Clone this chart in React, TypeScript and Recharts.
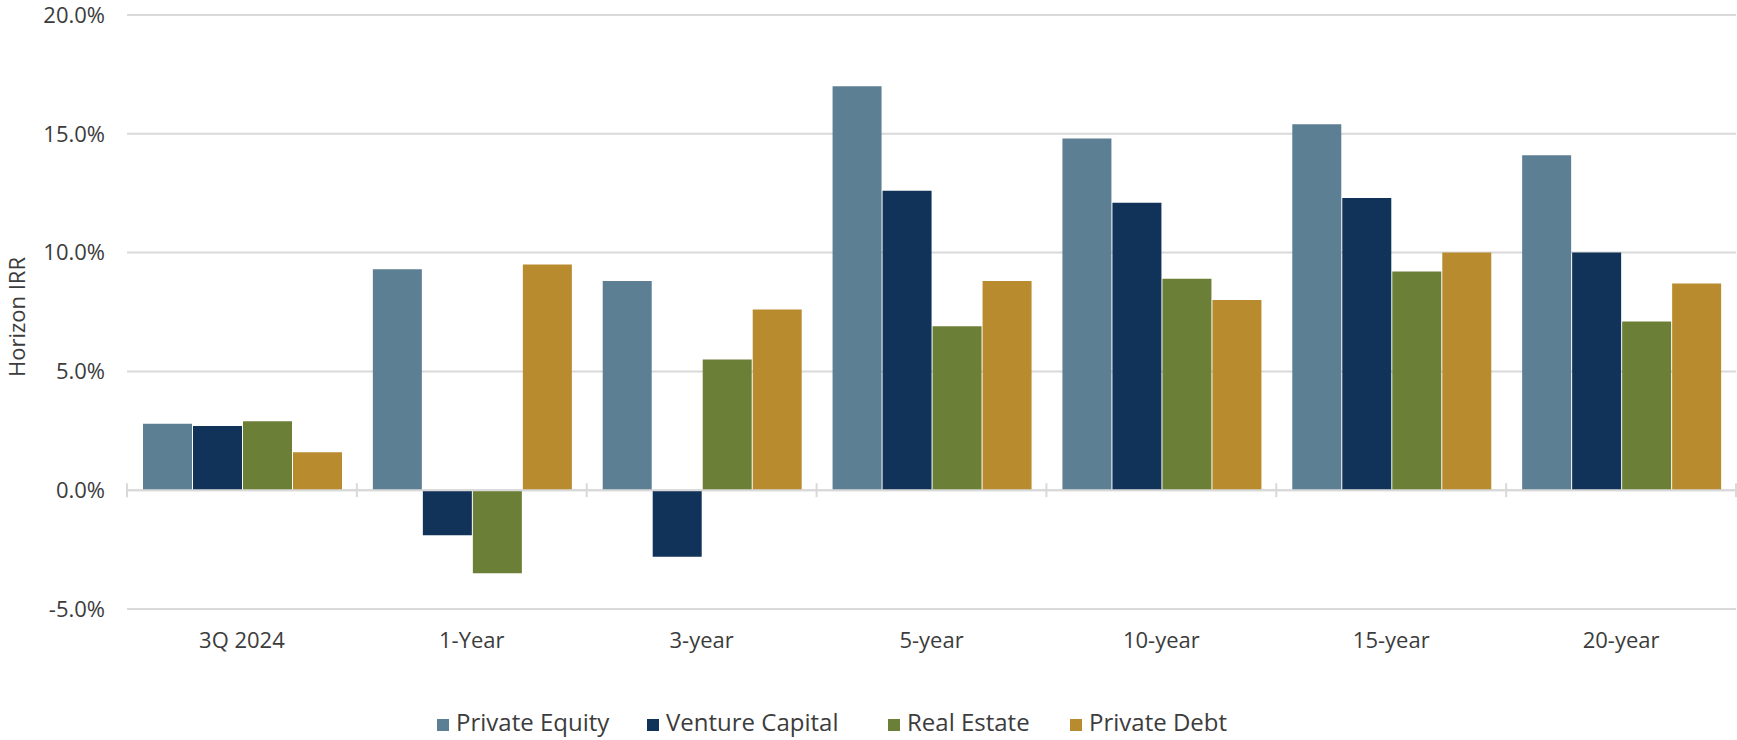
import React from 'react';
import { BarChart, Bar, XAxis, YAxis, CartesianGrid, ReferenceLine } from 'recharts';

// Horizon IRR by asset class
const horizons = ['3Q 2024', '1-Year', '3-year', '5-year', '10-year', '15-year', '20-year'];
const privateEquity = [2.8, 9.3, 8.8, 17.0, 14.8, 15.4, 14.1];
const ventureCapital = [2.7, -1.9, -2.8, 12.6, 12.1, 12.3, 10.0];
const realEstate = [2.9, -3.5, 5.5, 6.9, 8.9, 9.2, 7.1];
const privateDebt = [1.6, 9.5, 7.6, 8.8, 8.0, 10.0, 8.7];
const yTicks = [-5, 0, 5, 10, 15, 20];

const series = [
  { key: 'pe', name: 'Private Equity', color: '#5c7f93', values: privateEquity },
  { key: 'vc', name: 'Venture Capital', color: '#113359', values: ventureCapital },
  { key: 're', name: 'Real Estate', color: '#6c7f37', values: realEstate },
  { key: 'pd', name: 'Private Debt', color: '#b88b2e', values: privateDebt },
];

const data = horizons.map((h, i) => {
  const row: Record<string, string | number> = { horizon: h };
  series.forEach(s => { row[s.key] = s.values[i]; });
  return row;
});

const FONT = '"Open Sans", sans-serif';
const TEXT = '#3c3c3c';
const GRID = '#d9d9d9';

// zero line with cross tick marks at each category boundary
const ZeroAxis = (props: any) => {
  const { x1, x2, y1 } = props;
  const step = (x2 - x1) / horizons.length;
  return (
    <g>
      <line x1={x1} x2={x2} y1={y1} y2={y1} stroke={GRID} strokeWidth={2} />
      {horizons.concat('').map((_, i) => (
        <line key={i} x1={x1 + i * step} x2={x1 + i * step} y1={y1 - 7} y2={y1 + 7} stroke={GRID} strokeWidth={2} />
      ))}
    </g>
  );
};

const YTitle = ({ viewBox }: any) => {
  const cx = viewBox.x + 16;
  const cy = viewBox.y + viewBox.height / 2 + 5;
  return (
    <text
      x={cx}
      y={cy}
      transform={`rotate(-90, ${cx}, ${cy})`}
      textAnchor="middle"
      dominantBaseline="central"
      fill={TEXT}
      fontSize={22}
      fontFamily={FONT}
    >
      Horizon IRR
    </text>
  );
};

const legendWidths = [210, 241, 182, 170];

export default function App() {
  return (
    <div style={{ position: 'absolute', left: 0, top: 0, width: 1737, height: 740, background: '#fff', overflow: 'hidden' }}>
      <BarChart
        width={1737}
        height={740}
        data={data}
        margin={{ top: 15, right: 1, bottom: 0, left: 0 }}
        barCategoryGap={16}
        barGap={1}
      >
        <CartesianGrid vertical={false} stroke={GRID} strokeWidth={2} />
        <XAxis
          dataKey="horizon"
          height={131}
          axisLine={false}
          tickLine={false}
          tickSize={0}
          tickMargin={23}
          interval={0}
          tick={{ fill: TEXT, fontSize: 22, fontFamily: FONT }}
        />
        <YAxis
          width={127}
          domain={[-5, 20]}
          ticks={yTicks}
          allowDataOverflow
          axisLine={false}
          tickLine={false}
          tickSize={0}
          tickMargin={22}
          tickFormatter={(v: number) => `${v.toFixed(1)}%`}
          tick={{ fill: TEXT, fontSize: 22, fontFamily: FONT }}
          label={<YTitle />}
        />
        {series.map(s => (
          <Bar key={s.key} dataKey={s.key} name={s.name} fill={s.color} isAnimationActive={false} />
        ))}
        <ReferenceLine y={0} shape={<ZeroAxis />} />
      </BarChart>
      <div style={{ position: 'absolute', left: 437, top: 710, display: 'flex', fontFamily: FONT, fontSize: 24, lineHeight: '24px', color: TEXT }}>
        {series.map((s, i) => (
          <div key={s.key} style={{ width: legendWidths[i], display: 'flex', alignItems: 'flex-start' }}>
            <span style={{ width: 12, height: 12, background: s.color, marginRight: 7, marginTop: 9, flex: 'none' }} />
            <span style={{ whiteSpace: 'nowrap' }}>{s.name}</span>
          </div>
        ))}
      </div>
    </div>
  );
}
